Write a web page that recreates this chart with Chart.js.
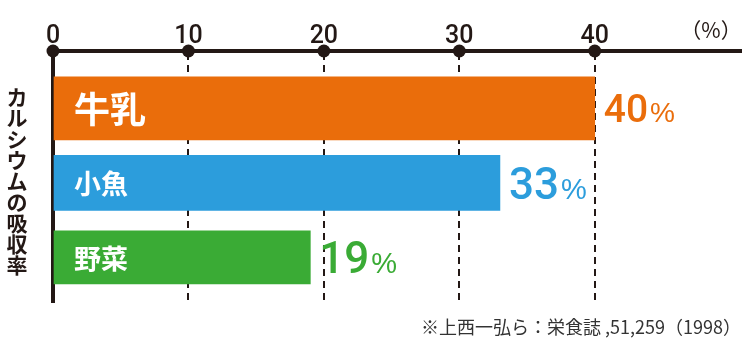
<!DOCTYPE html>
<html>
<head>
<meta charset="utf-8">
<script src="https://cdn.jsdelivr.net/npm/chart.js@4"></script>
<style>
  html, body { margin: 0; padding: 0; background: #fff; }
  #wrap { width: 750px; height: 352px; }
</style>
</head>
<body>
<div id="wrap"><canvas id="chart"></canvas></div>
<script>
const categories = ['牛乳', '小魚', '野菜'];
const values = [40, 33, 19];
const tickValues = [0, 10, 20, 30, 40];
const axisTitle = 'カルシウムの吸収率';
const unitLabel = '（%）';
const source = '※上西一弘ら：栄食誌 ,51,259（1998）';

const colors = ['#ea6d0b', '#2c9ddc', '#3aab35'];
const thickness = [63, 55, 53];
const nameSize = [36, 27, 27];
const valueSize = [39, 44, 44];
const pctSize = [28, 29, 29];
const ink = '#231815';
const jp = '"Noto Sans CJK JP", "Noto Sans", sans-serif';
const num = 'Roboto, "Liberation Sans", sans-serif';
const pct = '"Liberation Sans", Arial, sans-serif';

const datasets = categories.map((c, i) => ({
  label: c,
  data: [{ x: values[i], y: i }],
  backgroundColor: colors[i],
  barThickness: thickness[i],
  grouped: false
}));

const decorations = {
  id: 'decorations',
  afterDatasetsDraw(chart) {
    const { ctx, chartArea, scales } = chart;
    ctx.save();

    // dots on the top axis
    ctx.fillStyle = ink;
    tickValues.forEach(v => {
      ctx.beginPath();
      ctx.arc(scales.x.getPixelForValue(v), chartArea.top, 6.5, 0, Math.PI * 2);
      ctx.fill();
    });

    // labels in and next to the bars
    chart.data.datasets.forEach((ds, i) => {
      const bar = chart.getDatasetMeta(i).data[0];
      ctx.fillStyle = '#fff';
      ctx.font = `bold ${nameSize[i]}px ${jp}`;
      ctx.textAlign = 'left';
      ctx.textBaseline = 'middle';
      ctx.fillText(categories[i], bar.base + 20, bar.y + 1);

      const baseline = bar.y + valueSize[i] * 0.36;
      ctx.fillStyle = colors[i];
      ctx.textBaseline = 'alphabetic';
      ctx.font = `500 ${valueSize[i]}px ${num}`;
      const n = String(values[i]);
      const x0 = bar.x + 9;
      ctx.fillText(n, x0, baseline);
      const w = ctx.measureText(n).width;
      ctx.font = `${pctSize[i]}px ${pct}`;
      ctx.fillText('%', x0 + w + 2, baseline);
    });

    // vertical axis title, stacked characters
    ctx.fillStyle = ink;
    ctx.font = `bold 21px ${jp}`;
    ctx.textAlign = 'center';
    ctx.textBaseline = 'middle';
    [...axisTitle].forEach((ch, k) => {
      ctx.fillText(ch, 17, 97 + k * 21);
    });

    // unit
    ctx.font = `21px ${jp}`;
    ctx.fillText(unitLabel, 711, 30);

    // source note
    ctx.fillStyle = '#333';
    ctx.font = `18px ${jp}`;
    ctx.textAlign = 'right';
    ctx.fillText(source, 741, 327);

    ctx.restore();
  }
};

new Chart(document.getElementById('chart'), {
  type: 'bar',
  data: { datasets },
  options: {
    indexAxis: 'y',
    responsive: true,
    maintainAspectRatio: false,
    animation: false,
    layout: { padding: { left: 0, right: 9, top: 0, bottom: 50 } },
    plugins: {
      legend: { display: false },
      tooltip: { enabled: false }
    },
    scales: {
      x: {
        type: 'linear',
        position: 'top',
        min: 0,
        max: 50.8,
        afterFit: s => { s.height = 51; },
        afterBuildTicks: s => { s.ticks = tickValues.map(v => ({ value: v })); },
        grid: {
          drawTicks: false,
          lineWidth: 2,
          color: c => (c.tick && c.tick.value === 0 ? 'rgba(0,0,0,0)' : ink)
        },
        border: { display: true, color: ink, width: 4, dash: [7, 5] },
        ticks: {
          padding: -1,
          color: ink,
          font: { family: num, size: 25, weight: '500' }
        }
      },
      y: {
        type: 'linear',
        reverse: true,
        offset: false,
        min: -0.77,
        max: 2.6,
        afterFit: s => { s.width = 53; },
        grid: { display: false, drawTicks: false },
        border: { display: true, color: ink, width: 4 },
        ticks: { display: false }
      }
    }
  },
  plugins: [decorations]
});
</script>
</body>
</html>
